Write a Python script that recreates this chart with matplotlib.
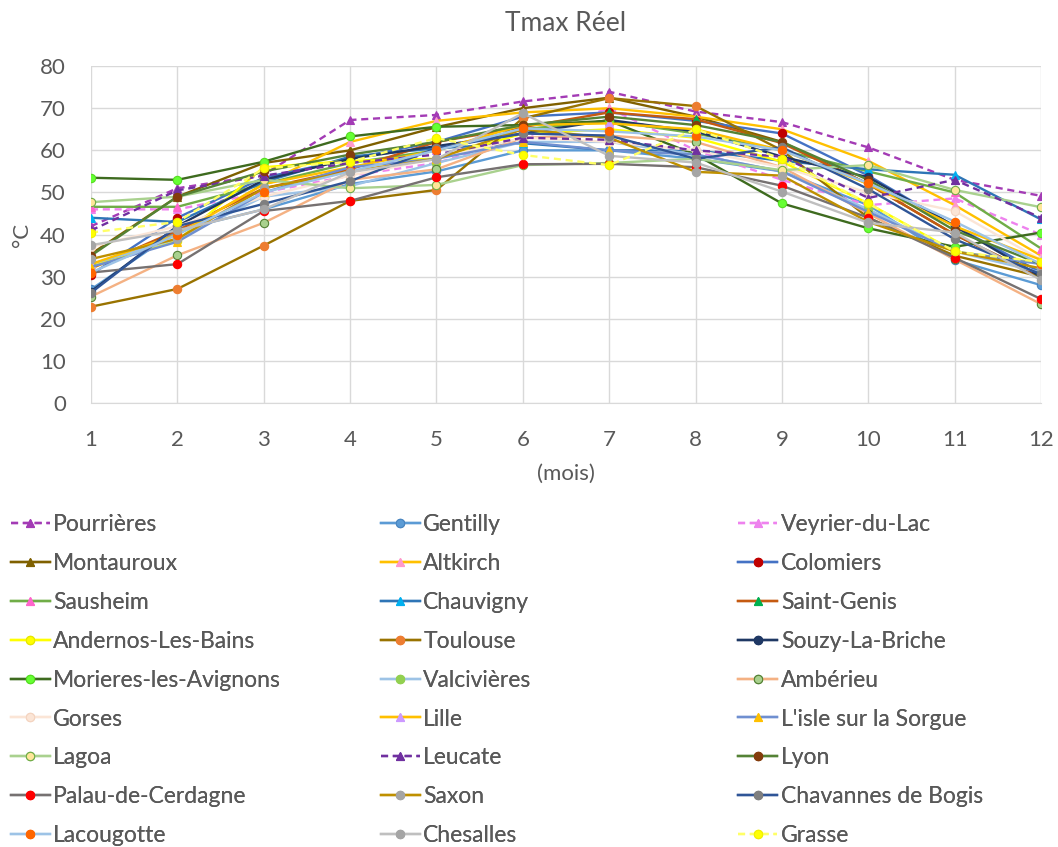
import matplotlib
matplotlib.use("Agg")
import matplotlib.pyplot as plt

months = list(range(1, 13))

names = ["Pourrières", "Gentilly", "Veyrier-du-Lac",
         "Montauroux", "Altkirch", "Colomiers",
         "Sausheim", "Chauvigny", "Saint-Genis",
         "Andernos-Les-Bains", "Toulouse", "Souzy-La-Briche",
         "Morieres-les-Avignons", "Valcivières", "Ambérieu",
         "Gorses", "Lille", "L'isle sur la Sorgue",
         "Lagoa", "Leucate", "Lyon",
         "Palau-de-Cerdagne", "Saxon", "Chavannes de Bogis",
         "Lacougotte", "Chesalles", "Grasse"]

pourrieres = [42, 51, 54.2, 67.2, 68.4, 71.6, 73.9, 69.2, 66.7, 60.7, 53, 49.2]
gentilly = [27, 41, 46, 52, 55, 60, 60, 58, 55, 47, 34, 28]
veyrier = [46, 46, 50, 54, 57, 63, 70, 60, 53, 47, 48.6, 40]
montauroux = [35.4, 49, 57, 60, 65.5, 70, 72.5, 68, 62, 52, 40, 30]
altkirch = [32, 40, 52, 62, 67, 69, 70, 68, 65, 57.5, 47, 35]
colomiers = [30.5, 44, 53.5, 58, 62, 68, 69, 67, 64, 54, 42, 31]
sausheim = [46.6, 46.6, 52, 57, 60, 65, 67, 64, 60, 55, 50, 36.7]
chauvigny = [44, 43, 52.5, 58.5, 60.5, 61.7, 60, 60, 57.5, 55.5, 54.2, 43.6]
saint_genis = [32, 41, 51, 55.5, 62, 65.5, 69, 67.4, 61.7, 52, 40, 30]
andernos = [32.5, 38.5, 56, 57.5, 58, 64, 65, 63, 57.3, 47.4, 36, 33.2]
toulouse = [22.9, 27.1, 37.4, 48, 50.6, 67.6, 72.4, 70.5, 60, 44, 35, 30]
souzy = [26.5, 42, 53, 58, 61, 64, 67.2, 64.5, 58.5, 53.6, 42, 30]
morieres = [53.5, 53, 57.3, 63.3, 65.6, 66, 67, 59, 47.4, 41.5, 37.1, 40.5]
valcivieres = [33, 39, 49, 51.5, 57, 62, 62, 59, 55, 46, 36, 31]
amberieu = [25.3, 35.1, 42.8, 53, 55.5, 63, 63.5, 62, 56, 45, 34.1, 23.5]
gorses = [37.1, 42, 49, 54, 58, 63, 62, 60, 56, 50, 45.6, 34]
lille = [33, 40, 52, 56, 60, 66, 66.4, 65, 60, 52, 42, 34]
lisle = [32.3, 38.3, 50, 56, 58, 62, 60, 59, 55, 45.4, 36, 33]
lagoa = [47.7, 49, 53, 51, 51.8, 56.5, 57, 58, 55.3, 56.5, 50.6, 46.5]
leucate = [41, 50.5, 54, 57, 59, 63, 62.5, 60, 58.5, 48.7, 53, 44]
lyon = [35, 49, 55, 59, 62, 66, 68, 66, 62, 53, 41, 33]
palau = [31, 33, 45.6, 48, 53.6, 56.7, 56.8, 56, 51.6, 44, 34.5, 24.7]
saxon = [34.2, 39, 51, 55, 58, 65, 63, 54.9, 54, 43, 36, 32]
chavannes = [26.2, 42, 47.3, 52.7, 60.5, 64, 63.5, 58, 60.7, 50.8, 38.9, 30.6]
lacougotte = [31, 40, 50, 55, 60, 65.2, 64.5, 63.3, 60, 52.2, 43.1, 33]
chesalles = [37.5, 41, 46, 54.8, 57.9, 68.8, 58.7, 57.1, 50.2, 42.8, 40.5, 29.2]
grasse = [40.5, 43, 55.7, 57.3, 62.9, 58.9, 56.5, 65, 58, 47.4, 36, 33.5]

series = [pourrieres, gentilly, veyrier, montauroux, altkirch, colomiers,
          sausheim, chauvigny, saint_genis, andernos, toulouse, souzy,
          morieres, valcivieres, amberieu, gorses, lille, lisle,
          lagoa, leucate, lyon, palau, saxon, chavannes,
          lacougotte, chesalles, grasse]

# (line color, marker face, marker edge, marker, dashed)
styles = [
    ("#A33BB5", "#A33BB5", "#A33BB5", "^", True),
    ("#5B9BD5", "#5B9BD5", "#4A86C0", "o", False),
    ("#EE82EE", "#EE82EE", "#EE82EE", "^", True),
    ("#7F6000", "#7F6000", "#7F6000", "^", False),
    ("#FFC000", "#FF99CC", "#FF99CC", "^", False),
    ("#4472C4", "#C00000", "#C00000", "o", False),
    ("#70AD47", "#FF66CC", "#FF66CC", "^", False),
    ("#2E75B6", "#00B0F0", "#00B0F0", "^", False),
    ("#C55A11", "#00B050", "#00B050", "^", False),
    ("#FFFF00", "#FFFF00", "#E6E600", "o", False),
    ("#997300", "#ED7D31", "#ED7D31", "o", False),
    ("#1F3864", "#1F3864", "#1F3864", "o", False),
    ("#3E6B1F", "#66FF33", "#55DD22", "o", False),
    ("#9DC3E6", "#92D050", "#92D050", "o", False),
    ("#F4B183", "#A9D18E", "#548235", "o", False),
    ("#FBE5D6", "#FBE5D6", "#F4D4C0", "o", False),
    ("#FFC000", "#CC99FF", "#CC99FF", "^", False),
    ("#6F8FD0", "#FFC000", "#FFC000", "^", False),
    ("#A9D18E", "#FFE699", "#70AD47", "o", False),
    ("#7030A0", "#7030A0", "#7030A0", "^", True),
    ("#548235", "#843C0C", "#843C0C", "o", False),
    ("#767171", "#FF0000", "#FF0000", "o", False),
    ("#BF9000", "#A5A5A5", "#A5A5A5", "o", False),
    ("#2F5597", "#7F7F7F", "#7F7F7F", "o", False),
    ("#9DC3E6", "#FF6600", "#FF6600", "o", False),
    ("#BFBFBF", "#A5A5A5", "#A5A5A5", "o", False),
    ("#FFFF66", "#FFFF00", "#F0F000", "o", True),
]

plt.rcParams['font.family'] = ['Lato', 'DejaVu Sans']
txt = "#595959"

fig = plt.figure(figsize=(10.58, 8.47), dpi=100)
ax = fig.add_axes([0.086, 0.524, 0.898, 0.398])

handles = []
for name, vals, (lc, mf, me, mk, dash) in zip(names, series, styles):
    ls = (0, (3, 2)) if dash else "-"
    h, = ax.plot(months, vals, color=lc, lw=1.7, linestyle=ls, marker=mk,
                 markersize=6, markerfacecolor=mf, markeredgecolor=me,
                 markeredgewidth=0.8, label=name, zorder=3)
    handles.append(h)

ax.set_xlim(1, 12)
ax.set_ylim(0, 80)
ax.set_xticks(months)
ax.set_yticks(range(0, 81, 10))
ax.grid(True, color="#D9D9D9", lw=1)
ax.set_axisbelow(True)
for s in ["top", "right", "left"]:
    ax.spines[s].set_visible(False)
ax.spines["bottom"].set_color("#D9D9D9")
ax.tick_params(axis="y", length=0, labelsize=16, colors=txt, pad=18)
ax.tick_params(axis="x", length=0, labelsize=16, colors=txt, pad=19)
ax.set_xlabel("(mois)", fontsize=16, color=txt, labelpad=10)
ax.set_ylabel("°C", fontsize=16, color=txt, labelpad=6)
ax.set_title("Tmax Réel", fontsize=19, color=txt, pad=25)

col_x = [0.010, 0.360, 0.698]
for c in range(3):
    hs = handles[c::3]
    ls_ = names[c::3]
    leg = fig.legend(hs, ls_, loc="upper left", bbox_to_anchor=(col_x[c], 0.393),
                     frameon=False, fontsize=16.5, handlelength=1.7,
                     handletextpad=0.15, labelspacing=0.78, borderaxespad=0,
                     borderpad=0)
    for t in leg.get_texts():
        t.set_color(txt)
    fig.add_artist(leg)

fig.savefig("out.png", dpi=100)
